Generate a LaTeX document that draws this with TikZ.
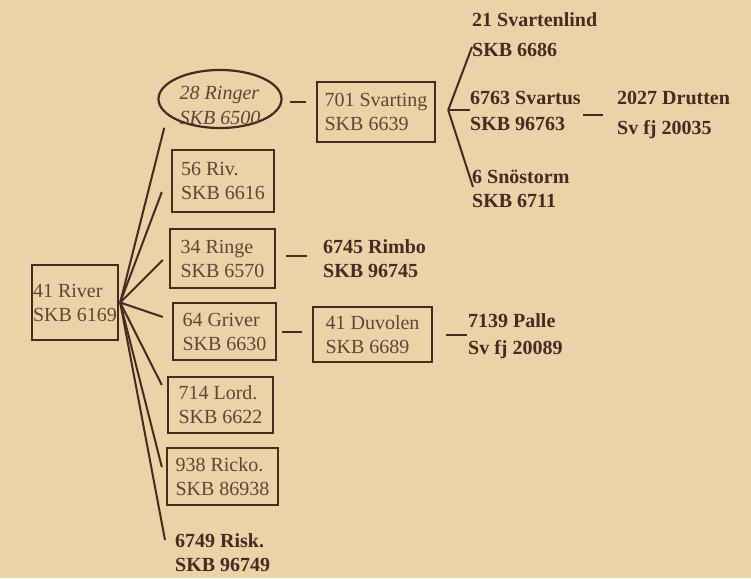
\documentclass[tikz,border=0pt]{standalone}
\usepackage{fontspec}
\setmainfont{Liberation Serif}
\usetikzlibrary{shapes.geometric,calc}
\definecolor{bg}{RGB}{237,209,167}
\definecolor{ink}{RGB}{72,42,36}
\definecolor{txt}{RGB}{98,68,56}
\begin{document}
\begin{tikzpicture}[x=1pt,y=-1pt,
  box/.style={draw=ink, line width=2.4pt, rectangle, inner sep=0pt, align=left,
    text=txt, font=\fontsize{20}{24}\selectfont},
  ell/.style={draw=ink, line width=2.2pt, ellipse, inner sep=0pt,
    minimum width=123pt, minimum height=58pt},
  itxt/.style={text=txt, inner sep=0pt, align=left, font=\fontsize{20}{25}\selectfont\itshape},
  btxt/.style={text=ink, inner sep=0pt, align=left, anchor=west, font=\fontsize{20}{24}\selectfont\bfseries},
  fan/.style={draw=ink, line width=2pt},
  link/.style={draw=ink, line width=2.2pt}]
\useasboundingbox (0,0) rectangle (751,578);
\fill[bg] (0,0) rectangle (751,578);

% boxes
\node[box, minimum width=86pt, minimum height=75pt] (river) at (75,302.5) {41 River\\SKB 6169};
\node[ell] (r28) at (220,99) {};
\node[itxt] (r28t) at ([yshift=-6pt]r28.center) {28 Ringer\\SKB 6500};
\node[box, minimum width=118pt, minimum height=60pt] (svart) at (376,112) {701 Svarting\\SKB 6639};
\node[box, minimum width=102pt, minimum height=62pt] (riv) at (223,181) {56 Riv.\\SKB 6616};
\node[box, minimum width=105pt, minimum height=59pt] (ringe) at (222.5,258.5) {34 Ringe\\SKB 6570};
\node[box, minimum width=103pt, minimum height=57pt] (griver) at (224.5,331.5) {64 Griver\\SKB 6630};
\node[box, minimum width=119pt, minimum height=55pt] (duvolen) at (372.5,334.5) {41 Duvolen\\SKB 6689};
\node[box, minimum width=105pt, minimum height=56pt] (lord) at (220.5,405) {714 Lord.\\SKB 6622};
\node[box, minimum width=111pt, minimum height=57pt] (ricko) at (222.5,476.5) {938 Ricko.\\SKB 86938};

% bold names
\node[btxt] (svlind) at (472,35) {21 Svartenlind\\[6pt]SKB 6686};
\node[btxt] (svartus) at (470,110.5) {6763 Svartus\\[2pt]SKB 96763};
\node[btxt] (drutten) at (617,114.5) {2027 Drutten\\[6pt]Sv fj 20035};
\node[btxt] (snostorm) at (472,188.5) {6 Snöstorm\\SKB 6711};
\node[btxt] (rimbo) at (323,258.5) {6745 Rimbo\\SKB 96745};
\node[btxt] (palle) at (468,336.5) {7139 Palle\\[3pt]Sv fj 20089};
\node[btxt] (risk) at (175,552.5) {6749 Risk.\\SKB 96749};

% fan from 41 River
\coordinate (root) at ([xshift=1pt]river.east);
\draw[fan] (root) -- ($(r28.south west)+(-11.5,7.5)$);
\draw[fan] (root) -- ($(riv.west)+(-9,11)$);
\draw[fan] (root) -- ($(ringe.west)+(-6,1.5)$);
\draw[fan] (root) -- ($(griver.west)+(-9,-14.5)$);
\draw[fan] (root) -- ($(lord.west)+(-5,-20)$);
\draw[fan] (root) -- ($(ricko.west)+(-4,-9.5)$);
\draw[fan] (root) -- ($(risk.west)+(-10,-12.5)$);

% fan from 701 Svarting
\coordinate (j) at ($(svart.east)+(12,-2)$);
\draw[fan] (j) -- ($(svlind.west)+(0,12)$);
\draw[fan] (j) -- (svartus.west |- j);
\draw[fan] (j) -- ($(snostorm.west)+(1,-1.5)$);

% short links
\draw[link, shorten <=7pt, shorten >=10pt] (r28.east |- 0,102) -- (svart.west |- 0,102);
\draw[link, shorten <=10pt, shorten >=16pt] (ringe.east |- 0,256) -- (rimbo.west |- 0,256);
\draw[link, shorten <=5pt, shorten >=10pt] (griver.east |- 0,332) -- (duvolen.west |- 0,332);
\draw[link, shorten <=13pt, shorten >=1pt] (duvolen.east |- 0,335) -- (palle.west |- 0,335);
\draw[link, shorten <=2pt, shorten >=14pt] (svartus.east |- 0,115) -- (drutten.west |- 0,115);
\end{tikzpicture}
\end{document}
